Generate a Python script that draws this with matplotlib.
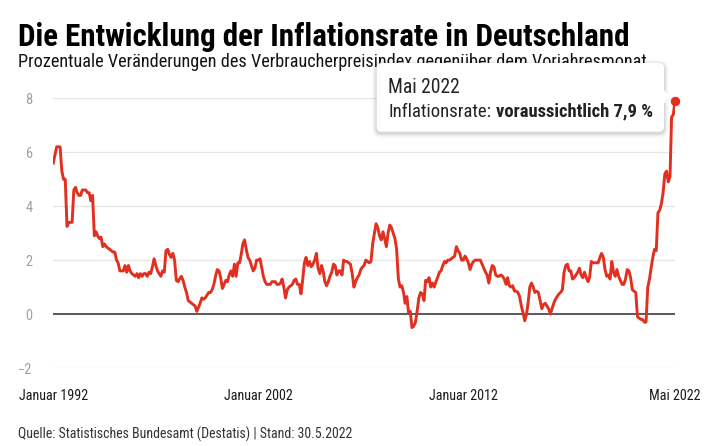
import pandas as pd
import matplotlib
matplotlib.use("Agg")
import matplotlib.pyplot as plt
from matplotlib import font_manager
from matplotlib.patches import FancyBboxPatch, Polygon

# ---- Daten: Inflationsrate in % (Veränderung ggü. Vorjahresmonat), Jan 1992 - Mai 2022
rates_1990s = [
    5.6, 5.9, 6.2, 6.2, 6.2, 5.3, 5.0, 5.0, 3.25, 3.4, 3.4, 3.4,      # 1992
    4.6, 4.7, 4.5, 4.4, 4.4, 4.6, 4.6, 4.6, 4.5, 4.5, 4.2, 4.4,       # 1993
    2.9, 3.05, 2.9, 2.8, 2.85, 2.5, 2.6, 2.5, 2.45, 2.4, 2.35, 2.3,   # 1994
    2.3, 2.0, 1.9, 1.6, 1.6, 1.6, 1.8, 1.55, 1.8, 1.6, 1.5, 1.45,     # 1995
    1.4, 1.5, 1.35, 1.5, 1.4, 1.5, 1.5, 1.4, 1.55, 1.5, 1.75, 2.05,   # 1996
    1.8, 1.6, 1.5, 1.4, 1.6, 1.55, 2.35, 2.4, 2.2, 2.1, 2.25, 2.0,    # 1997
    1.25, 1.2, 1.3, 1.4, 1.25, 1.0, 0.8, 0.5, 0.45, 0.4, 0.35, 0.3,   # 1998
    0.1, 0.25, 0.4, 0.6, 0.55, 0.6, 0.7, 0.8, 0.8, 0.9, 1.1, 1.4,     # 1999
]
rates_2000s = [
    1.65, 1.6, 1.35, 0.95, 1.1, 1.25, 1.2, 1.45, 1.6, 1.4, 1.85, 1.4,  # 2000
    1.9, 1.9, 2.2, 2.6, 2.75, 2.4, 2.1, 2.0, 1.8, 1.6, 1.7, 2.0,       # 2001
    2.0, 2.05, 1.75, 1.4, 1.2, 1.1, 1.1, 1.1, 1.2, 1.2, 1.2, 1.1,      # 2002
    1.1, 1.15, 1.3, 1.0, 0.6, 0.9, 1.0, 1.05, 1.1, 1.25, 1.3, 1.1,     # 2003
    1.1, 0.75, 1.25, 1.9, 2.1, 1.8, 1.95, 1.75, 1.85, 2.0, 2.25, 1.7,  # 2004
    1.5, 1.8, 1.6, 1.2, 1.05, 1.2, 1.4, 1.55, 1.85, 1.8, 1.45, 1.6,    # 2005
    1.6, 1.45, 2.0, 1.95, 1.95, 1.9, 1.85, 1.5, 1.0, 1.2, 1.35, 1.45,  # 2006
    1.65, 1.75, 1.8, 2.0, 1.95, 1.9, 1.95, 2.6, 3.0, 3.35, 3.2, 2.9,   # 2007
    2.75, 3.05, 2.8, 2.5, 3.0, 3.3, 3.2, 3.0, 2.8, 2.4, 1.3, 1.0,      # 2008
    1.05, 0.8, 0.4, 0.65, 0.05, 0.1, -0.5, -0.45, -0.3, 0.1, 0.6, 0.8, # 2009
]
rates_2010s = [
    0.75, 0.5, 1.25, 1.2, 1.35, 1.0, 1.15, 1.0, 1.2, 1.35, 1.55, 1.6,  # 2010
    1.8, 1.95, 1.9, 2.0, 2.0, 2.05, 2.1, 2.15, 2.5, 2.35, 2.25, 2.0,   # 2011
    2.0, 2.15, 2.05, 1.9, 1.65, 1.85, 1.95, 2.0, 2.0, 2.0, 2.0, 1.85,  # 2012
    1.7, 1.55, 1.45, 1.15, 1.55, 1.8, 1.75, 1.45, 1.4, 1.4, 1.45, 1.4, # 2013
    1.3, 1.1, 1.35, 1.05, 1.0, 1.05, 0.85, 0.85, 0.8, 0.65, 0.3, 0.05, # 2014
    -0.25, 0.0, 0.4, 1.0, 1.15, 1.0, 0.8, 0.85, 0.8, 0.5, 0.2, 0.35,   # 2015
    0.4, 0.3, 0.2, 0.0, 0.2, 0.4, 0.55, 0.65, 0.75, 0.8, 0.9, 1.55,    # 2016
    1.8, 1.85, 1.6, 1.6, 1.3, 1.35, 1.45, 1.55, 1.7, 1.45, 1.35, 1.55, # 2017
    1.35, 1.2, 1.35, 1.95, 1.9, 1.9, 1.9, 1.9, 2.1, 2.25, 2.1, 1.65,   # 2018
    1.4, 1.45, 1.3, 1.95, 1.55, 1.4, 1.65, 1.4, 1.25, 1.1, 1.1, 1.3,   # 2019
]
rates_2020s = [
    1.65, 1.6, 1.35, 0.9, 0.85, 0.8, -0.1, -0.15, -0.2, -0.2, -0.3, -0.3,  # 2020
    1.0, 1.3, 1.7, 2.1, 2.4, 2.35, 3.75, 3.85, 4.1, 4.5, 5.2, 5.3,         # 2021
    4.9, 5.1, 7.3, 7.4, 7.9,                                               # 2022
]
rates = rates_1990s + rates_2000s + rates_2010s + rates_2020s
months = pd.date_range("1992-01-01", periods=len(rates), freq="MS")

y_ticks = [-2, 0, 2, 4, 6, 8]
x_tick_dates = ["1992-01-01", "2002-01-01", "2012-01-01", "2022-05-01"]
x_tick_labels = ["Januar 1992", "Januar 2002", "Januar 2012", "Mai 2022"]

title = "Die Entwicklung der Inflationsrate in Deutschland"
subtitle = "Prozentuale Veränderungen des Verbraucherpreisindex gegenüber dem Vorjahresmonat"
source = "Quelle: Statistisches Bundesamt (Destatis) | Stand: 30.5.2022"
tip_date = "Mai 2022"
tip_label = "Inflationsrate:"
tip_value = "voraussichtlich 7,9 %"

RED = "#e1301f"

# ---- Schrift: schmale Sans, falls vorhanden
avail = {f.name for f in font_manager.fontManager.ttflist}
FONT = "DejaVu Sans"
for name in ["Roboto Condensed", "Liberation Sans Narrow", "Open Sans Condensed", "Roboto", "Liberation Sans"]:
    if name in avail:
        FONT = name
        break
plt.rcParams["font.family"] = [FONT, "DejaVu Sans"]

W, H = 716, 446
fig = plt.figure(figsize=(W / 100, H / 100), dpi=100)
fig.patch.set_facecolor("white")
renderer = fig.canvas.get_renderer()


def fit(t, width_px):
    w = t.get_window_extent(renderer).width
    t.set_fontsize(t.get_fontsize() * width_px / w)


# ---- Diagrammfläche
x0, x1, ytop, ybot = 53.3, 675.0, 98.3, 368.0
ax = fig.add_axes([x0 / W, 1 - ybot / H, (x1 - x0) / W, (ybot - ytop) / H])
ax.plot(months, rates, color=RED, lw=2.1, solid_joinstyle="round", zorder=3)
ax.plot(months[-1], rates[-1], "o", ms=5.8, color=RED, clip_on=False, zorder=4)
ax.set_xlim(months[0], months[-1])
ax.set_ylim(-2, 8)
ax.set_yticks(y_ticks)
ax.grid(axis="y", color="#e6e6e6", lw=0.9)
ax.axhline(0, color="#5a5a5a", lw=1.4, zorder=2)
ax.set_axisbelow(True)
for s in ax.spines.values():
    s.set_visible(False)

# Schriftgrößen über Zielbreiten bestimmen
tmp = fig.text(0, 0, "Januar 1992", fontsize=10)
fit(tmp, 69)
xfs = tmp.get_fontsize()
tmp.remove()

ax.set_xticks(pd.to_datetime(x_tick_dates))
ax.set_xticklabels(x_tick_labels)
ax.tick_params(axis="x", length=0, pad=15, labelsize=xfs, labelcolor="#1a1a1a")
ax.tick_params(axis="y", length=0, pad=15, labelsize=xfs * 1.02, labelcolor="#a0a0a0")

# ---- Overlay in Pixelkoordinaten für Texte und Tooltip
ov = fig.add_axes([0, 0, 1, 1], zorder=5)
ov.set_xlim(0, W)
ov.set_ylim(H, 0)
ov.axis("off")

t = ov.text(18, 45.5, title, fontsize=20, fontweight="bold", color="#000000", va="baseline", zorder=1)
fit(t, 610)
t = ov.text(18, 67, subtitle, fontsize=12, color="#141414", va="baseline", zorder=1)
fit(t, 628)
t = ov.text(18, 439, source, fontsize=10, color="#333333", va="baseline", zorder=1)
fit(t, 335)

# Tooltip-Box mit leichtem Schatten
bx, by, bw, bh = 376.7, 63.0, 287.3, 68.7
for grow, a in [(5, 0.015), (4, 0.02), (3, 0.03), (2, 0.04), (1, 0.05)]:
    ov.add_patch(FancyBboxPatch((bx - grow, by - grow + 1.5), bw + 2 * grow, bh + 2 * grow,
                                boxstyle="round,pad=0,rounding_size=%g" % (5 + grow),
                                fc="black", ec="none", alpha=a, zorder=3))
ov.add_patch(Polygon([(bx + bw - 1, 89), (bx + bw + 6, 97), (bx + bw - 1, 105)],
                     closed=True, fc="white", ec="none", zorder=4))
ov.add_patch(FancyBboxPatch((bx, by), bw, bh, boxstyle="round,pad=0,rounding_size=5",
                            fc="white", ec="none", zorder=4))

t1 = ov.text(388.3, 116.7, tip_label, fontsize=10, color="#222222", va="baseline", zorder=6)
t2 = ov.text(0, 116.7, tip_value, fontsize=10, fontweight="bold", color="#222222", va="baseline", zorder=6)
total = t1.get_window_extent(renderer).width + t2.get_window_extent(renderer).width + 2.5
scale = 264 / total
t1.set_fontsize(10 * scale)
t2.set_fontsize(10 * scale)
gap = 0.27 * 10 * scale * 100 / 72
t2.set_x(388.3 + t1.get_window_extent(renderer).width + gap)
ov.text(388.3, 93.3, tip_date, fontsize=10 * scale * 1.05, color="#222222", va="baseline", zorder=6)

fig.savefig("out.png", dpi=100, facecolor="white")
